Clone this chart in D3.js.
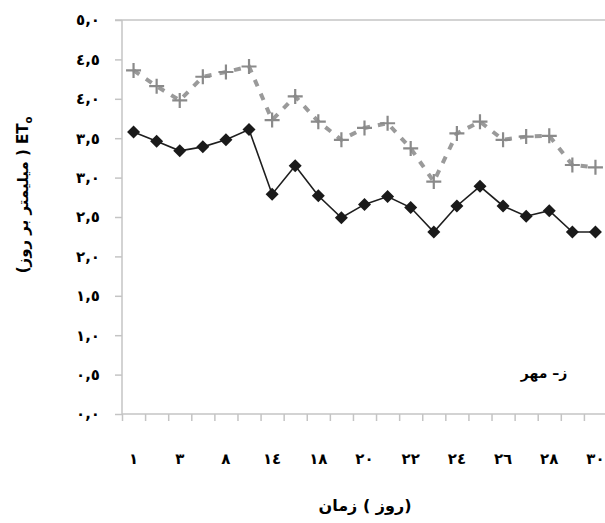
<!DOCTYPE html>
<html>
<head>
<meta charset="utf-8">
<script src="https://cdn.jsdelivr.net/npm/d3@7"></script>
<style>
  body { margin: 0; background: #fff; }
  text { font-family: "DejaVu Sans", "Noto Sans", sans-serif; font-weight: bold; fill: #000; }
</style>
</head>
<body>
<div id="chart"></div>
<script>
// days of the month (only every other one is labelled)
var days = [1, 2, 3, 5, 8, 11, 14, 16, 18, 19, 20, 21, 22, 23, 24, 25, 26, 27, 28, 29, 30];
// ET0 series, mm/day
var seriesA = [3.58, 3.46, 3.34, 3.39, 3.48, 3.61, 2.79, 3.15, 2.77, 2.49, 2.66,
               2.76, 2.62, 2.31, 2.64, 2.89, 2.64, 2.51, 2.58, 2.31, 2.31];
var seriesB = [4.36, 4.16, 3.98, 4.28, 4.34, 4.41, 3.73, 4.03, 3.71, 3.48, 3.63,
               3.69, 3.37, 2.95, 3.56, 3.71, 3.48, 3.52, 3.53, 3.16, 3.13];
var yTicks = [0, 0.5, 1, 1.5, 2, 2.5, 3, 3.5, 4, 4.5, 5];

var width = 605, height = 523;
var mLeft = 122, mRight = 607, mTop = 20, mBottom = 414;
var axisColor = '#c4c4c4';

var arabic = '٠١٢٣٤٥٦٧٨٩';
function toArabic(s) {
  return String(s).replace(/[0-9]/g, function(c) { return arabic[+c]; }).replace('.', ',');
}

var svg = d3.select('#chart').append('svg')
  .attr('width', width)
  .attr('height', height);

var x = d3.scaleBand().domain(d3.range(days.length)).range([mLeft, mRight]);
var xTick = d3.scaleLinear().domain([0, days.length]).range([mLeft, mRight]);
var y = d3.scaleLinear().domain([0, 5]).range([mBottom, mTop]);
var cx = function(d, i) { return x(i) + x.bandwidth() / 2; };

// top border of plot area
svg.append('line')
  .attr('x1', mLeft - 7).attr('x2', width)
  .attr('y1', y(5)).attr('y2', y(5))
  .attr('stroke', axisColor).attr('stroke-width', 1.5);

// y axis
var yAxis = svg.append('g')
  .attr('transform', 'translate(' + mLeft + ',0)')
  .call(d3.axisLeft(y).tickValues(yTicks).tickSize(7).tickPadding(15)
    .tickFormat(function(d) { return toArabic(d3.format('.1f')(d)); }));
yAxis.selectAll('path, line').attr('stroke', axisColor).attr('stroke-width', 1.5);
yAxis.select('.domain').attr('d', 'M0,' + mBottom + 'V' + mTop);
yAxis.selectAll('text')
  .style('font-size', '15px')
  .style('letter-spacing', '1px')
  .style('font-family', '"DejaVu Sans", sans-serif');

// x axis: tick marks between categories
var xAxis = svg.append('g')
  .attr('transform', 'translate(0,' + mBottom + ')')
  .call(d3.axisBottom(xTick).tickValues(d3.range(days.length + 1)).tickSize(7).tickFormat(''));
xAxis.selectAll('path, line').attr('stroke', axisColor).attr('stroke-width', 1.5);
xAxis.select('.domain').attr('d', 'M' + mLeft + ',0H' + width);

// x labels every other category
var xLab = svg.append('g')
  .attr('transform', 'translate(0,' + mBottom + ')')
  .call(d3.axisBottom(x).tickSize(0).tickPadding(39)
    .tickValues(d3.range(0, days.length, 2))
    .tickFormat(function(i) { return toArabic(days[i]); }));
xLab.select('.domain').remove();
xLab.selectAll('text')
  .style('font-size', '15px')
  .style('letter-spacing', '1px')
  .style('font-family', '"DejaVu Sans", sans-serif');

// dashed grey series
svg.append('path')
  .datum(seriesB)
  .attr('fill', 'none')
  .attr('stroke', '#9a9a9a')
  .attr('stroke-width', 4)
  .attr('stroke-dasharray', '7,8')
  .attr('d', d3.line().x(cx).y(function(d) { return y(d); }));

svg.selectAll('.cross')
  .data(seriesB).enter()
  .append('path')
  .attr('class', 'cross')
  .attr('transform', function(d, i) { return 'translate(' + cx(d, i) + ',' + y(d) + ')'; })
  .attr('d', 'M-7.5,0H7.5M0,-7.5V7.5')
  .attr('stroke', '#8a8a8a')
  .attr('stroke-width', 2.2);

// solid black series
svg.append('path')
  .datum(seriesA)
  .attr('fill', 'none')
  .attr('stroke', '#1e1e1e')
  .attr('stroke-width', 1.6)
  .attr('d', d3.line().x(cx).y(function(d) { return y(d); }));

svg.selectAll('.diamond')
  .data(seriesA).enter()
  .append('path')
  .attr('class', 'diamond')
  .attr('transform', function(d, i) { return 'translate(' + cx(d, i) + ',' + y(d) + ')'; })
  .attr('d', 'M0,-6.5L6.5,0L0,6.5L-6.5,0Z')
  .attr('fill', '#1a1a1a');

// annotation
svg.append('text')
  .attr('x', 544).attr('y', 378)
  .attr('text-anchor', 'middle')
  .style('font-size', '14px')
  .text('ز– مهر');

// x title
svg.append('text')
  .attr('x', 365).attr('y', 511)
  .attr('text-anchor', 'middle')
  .style('font-size', '16px')
  .text('زمان\u200E ( روز)');

// y title
var yt = svg.append('text')
  .attr('transform', 'translate(28,195) rotate(-90)')
  .attr('text-anchor', 'middle')
  .style('font-size', '15px');
yt.append('tspan').text('(میلیمتر بر روز ) ET');
yt.append('tspan').attr('dy', 4).style('font-size', '10px').text('o');
</script>
</body>
</html>
